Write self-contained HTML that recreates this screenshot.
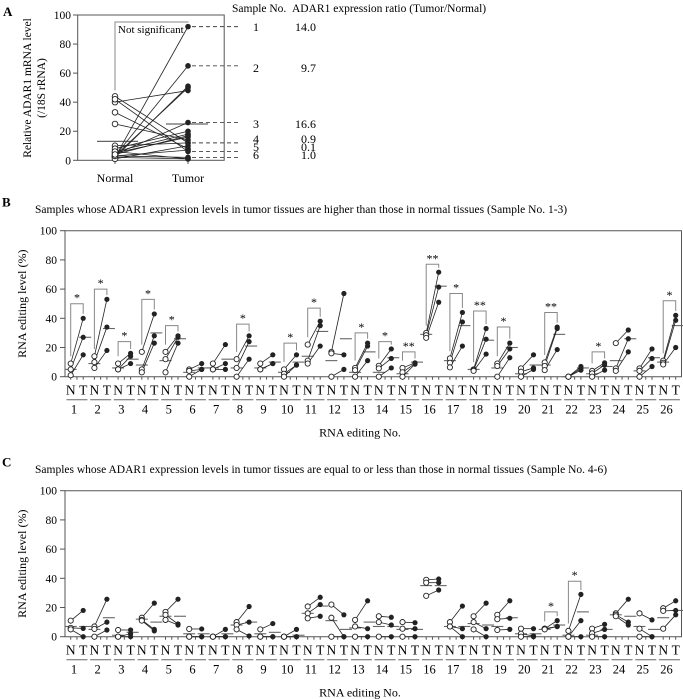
<!DOCTYPE html>
<html><head><meta charset="utf-8">
<style>
html,body{margin:0;padding:0;background:#fff;}
svg{display:block;font-family:"Liberation Serif",serif;}
</style></head>
<body>
<svg id="fig" width="683" height="699" viewBox="0 0 683 699" xmlns="http://www.w3.org/2000/svg">
<g id="panelA"></g>
<g id="panelB"></g>
<g id="panelC"></g>
</svg>
<script>
// ---------- Panel A data ----------
const aNormal = [2,3,40,2,3,44,42,33,25,10,8,6,5,4,3,2,1,3,6,4];
const aTumor  = [92,65,48,51,50,12,6,8,14,12,20,18,16,26,2,1,10,7,1,17];
const aMeanNormal = 13;
const aMeanTumor = 25;
const aYTicks = [0,20,40,60,80,100];
const aSampleValues = [92,65,26,12,6,2];
const aSampleNo = ["1","2","3","4","5","6"];
const aRatios = ["14.0","9.7","16.6","0.9","0.1","1.0"];

// ---------- Panel B data ----------
const bN = [[9,5,1],[14,10,6],[9,5,5],[17,5,3],[17,12,3],[5,4,0],[9,5,5],[12,6,0],[9,5,5],[5,2,0],[22,11,9],[17,16,0],[6,4.5,0],[7.5,5.7,0],[6,3,0],[30,28.4,26.6],[12.5,9.5,6.4],[5,4.5,4],[9,7.3,0],[5.7,3.4,0],[9.8,7.3,4.5],[0,0,0],[4,2.3,0],[23,5.7,4],[5.7,4,0],[11,9.5,8.4]];
const bT = [[40,27,15],[53,34,18],[16,14,9],[43,28,23],[28,27,23],[9,5,5],[22,9,5],[28,24,12],[15,9,9],[15,8,8],[38,35,21],[57,15,5],[23,21,11],[19,12.5,6],[9.5,9,8.6],[71.6,61.4,51],[44,37.5,21],[33,25.7,15.5],[23,19,13],[15,6,5],[34,33,18.6],[7,5.7,4.5],[9.5,8,4.5],[32,26,17],[19,12.5,7],[42,38.6,20]];
const bNMean = [5,9,6,8,11,3,6,6,6,3,14,11,3,3,2,29,11,5,6,2,8,0,2,11,4,10];
const bTMean = [27,33,12,30,26,6,12,21,10,10,31,26,17,13,10,62,35,25,20,8,29,6,7,26,13,35];
const bSig = ["*","*","*","*","*","","","*","","*","*","","*","*","**","**","*","**","*","","**","","*","","","*"];
const bBracketTop = [50,60,24,53,35,0,0,36,0,23,47,0,30,24,17,77,57,45,34,0,44,0,17,0,0,52];

// ---------- Panel C data ----------
const cN = [[11,6,5],[7,5.3,0],[4.6,0,0],[13,11.5,11],[17,15,11.5],[5.3,0,0],[0,0,0],[10,8,5],[5,0,0],[0,0,0],[20.7,16,12.6],[22,13,0],[11.5,7,0],[14,10,0],[10,5.5,0],[39,37,28],[10,7,7],[14,10,5],[15,12,4.6],[5.5,2,0],[5.5,5.5,5],[4,0,0],[5.5,2.3,0],[16,15,14],[16,5.5,0],[19.5,17.7,5.5]];
const cT = [[18,5.7,0],[25.7,10,4.6],[4.6,2,0],[23,5,4],[25.7,8.7,8],[5.3,0,0],[5,0,0],[20.7,10,0.5],[9,0,0],[5,0,0],[27,22,14],[15,0,0],[24.6,5.5,0],[13.3,8,0],[9.6,5.5,0],[39.5,37,32],[21,5.5,0],[23,5.5,0],[24.6,12.6,5],[5.5,0.5,0],[11,7,7],[29,11,0],[8.5,5,0],[25.7,10,8],[11.5,0,0],[24.6,18,15]];
const cNMean = [7,5,1,12,14,2,0,8,2,0,16,11,6,7,5,35,7,9,7,2,5,1,1,15,7,13];
const cTMean = [7,13,3,10,14,2,2,10,3,1,21,5,10,7,5,35,7,8,13,2,8,17,5,14,5,18];
const cSig = ["","","","","","","","","","","","","","","","","","","","","*","*","","","",""];
const cBracketTop = [0,0,0,0,0,0,0,0,0,0,0,0,0,0,0,0,0,0,0,0,17,38,0,0,0,0];

const editYTicks = [0,20,40,60,80,100];
const groupLabels = Array.from({length:26},(_, i)=>String(i+1));

const NS = "http://www.w3.org/2000/svg";
function mk(parent, tag, attrs, text){
  const e = document.createElementNS(NS, tag);
  for (const k in attrs) e.setAttribute(k, attrs[k]);
  if (text !== undefined) e.textContent = text;
  parent.appendChild(e);
  return e;
}

// ---------- Panel A ----------
(function(){
  const g = document.getElementById('panelA');
  const y = v => 160.3 - v*1.453;
  const xN = 115, xT = 188;
  let e;
  e = mk(g,'text',{x:3,y:16,'font-size':13,'font-weight':'bold'},'A');
  
  
  e = mk(g,'rect',{x:77.7,y:15,width:146.5,height:145.3,fill:'none',stroke:'#555','stroke-width':1});
  
  
  aYTicks.forEach(t=>{
    e = mk(g,'line',{x1:73,x2:77.7,y1:y(t),y2:y(t),stroke:'#555'});
    
    
    e = mk(g,'text',{x:71,y:y(t)+4,'font-size':11.5,'text-anchor':'end'},String(t));
    
    
  });
  [xN,xT].forEach(x=>{
    e = mk(g,'line',{x1:x,x2:x,y1:160.3,y2:164,stroke:'#555'});
    
    
  });
  e = mk(g,'text',{'font-size':11.5,'text-anchor':'middle',transform:'translate(31,88) rotate(-90)'},'Relative ADAR1 mRNA level');
  
  
  e = mk(g,'text',{'font-size':11.5,'text-anchor':'middle',transform:'translate(45,88) rotate(-90)'},'(/18S rRNA)');
  
  
  e = mk(g,'text',{x:xN,y:182,'font-size':12,'text-anchor':'middle'},'Normal');
  
  
  e = mk(g,'text',{x:xT,y:182,'font-size':12,'text-anchor':'middle'},'Tumor');
  
  
  e = mk(g,'line',{x1:97,x2:138,y1:y(aMeanNormal),y2:y(aMeanNormal),stroke:'#666','stroke-width':1.2});
  
  
  e = mk(g,'line',{x1:166,x2:208,y1:y(aMeanTumor),y2:y(aMeanTumor),stroke:'#666','stroke-width':1.2});
  
  
  const nMax = Math.max(...aNormal), tMax = Math.max(...aTumor);
  e = mk(g,'polyline',{points:`${xN},${y(nMax)-6} ${xN},22 ${xT},22 ${xT},${y(tMax)-4}`,fill:'none',stroke:'#888','stroke-width':1});
  
  
  e = mk(g,'text',{x:118,y:33,'font-size':11},'Not significant');
  
  
  aSampleValues.forEach(v=>{
    e = mk(g,'line',{x1:xT+4,x2:238,y1:y(v),y2:y(v),stroke:'#444','stroke-dasharray':'4,3','stroke-width':0.9});
    
    
  });
  aNormal.forEach((n,i)=>{
    e = mk(g,'line',{x1:xN,y1:y(n),x2:xT,y2:y(aTumor[i]),stroke:'#222','stroke-width':0.8});
    
    
  });
  aNormal.forEach(n=>{
    e = mk(g,'circle',{cx:xN,cy:y(n),r:2.8,fill:'#fff',stroke:'#222','stroke-width':0.9});
    
    
  });
  aTumor.forEach(t=>{
    e = mk(g,'circle',{cx:xT,cy:y(t),r:2.8,fill:'#222'});
    
    
  });
  e = mk(g,'text',{x:232,y:12,'font-size':11.5},'Sample No.');
  
  
  e = mk(g,'text',{x:292,y:12,'font-size':11.5},'ADAR1 expression ratio (Tumor/Normal)');
  
  
  const labY = [31,72,128,143,151,159];
  aSampleNo.forEach((s,i)=>{
    e = mk(g,'text',{x:256,y:labY[i],'font-size':12,'text-anchor':'middle'},s);
    
    
    e = mk(g,'text',{x:316,y:labY[i],'font-size':12,'text-anchor':'end'},aRatios[i]);
    
    
  });
})();

// ---------- Editing panels ----------
function editingPanel(gid, top, letter, title, N, T, NM, TM, SIG, BT){
  const g = document.getElementById(gid);
  const zeroY = top + 146;
  const y = v => zeroY - v*1.46;
  const xN = i => 70.7 + i*23.7;
  const xT = i => xN(i) + 12.5;
  let e;
  e = mk(g,'text',{x:2,y:top-24,'font-size':13,'font-weight':'bold'},letter);
  
  
  e = mk(g,'text',{x:35,y:top-17.5,'font-size':11.5},title);
  
  
  e = mk(g,'polyline',{points:`65,${zeroY} 65,${top} 681.5,${top} 681.5,${zeroY} 65,${zeroY}`,fill:'none',stroke:'#555','stroke-width':1});
  
  
  editYTicks.forEach(t=>{
    e = mk(g,'line',{x1:60,x2:65,y1:y(t),y2:y(t),stroke:'#555'});
    
    
    e = mk(g,'text',{x:57,y:y(t)+4,'font-size':11.5,'text-anchor':'end'},String(t));
    
    
  });
  e = mk(g,'text',{'font-size':12,'text-anchor':'middle',transform:`translate(26,${top+73}) rotate(-90)`},'RNA editing level (%)');
  
  
  e = mk(g,'text',{x:360,y:zeroY+60,'font-size':12,'text-anchor':'middle'},'RNA editing No.');
  
  
  groupLabels.forEach((lab,i)=>{
    [xN(i),xT(i),(xN(i)+xT(i))/2].forEach(x=>{
      e = mk(g,'line',{x1:x,x2:x,y1:zeroY,y2:zeroY+3,stroke:'#555'});
      
      
    });
    e = mk(g,'text',{x:xN(i),y:zeroY+18,'font-size':13.5,'text-anchor':'middle'},'N');
    
    
    e = mk(g,'text',{x:xT(i),y:zeroY+18,'font-size':13.5,'text-anchor':'middle'},'T');
    
    
    const cx = (xN(i)+xT(i))/2;
    e = mk(g,'line',{x1:cx-10.5,x2:cx+10.5,y1:zeroY+23,y2:zeroY+23,stroke:'#666','stroke-width':1});
    
    
    e = mk(g,'text',{x:cx-3,y:zeroY+37,'font-size':12.5,'text-anchor':'middle'},lab);
    
    
    if (SIG[i]) {
      const bt = y(BT[i]);
      e = mk(g,'polyline',{points:`${xN(i)},${y(Math.max(...N[i])+5)} ${xN(i)},${bt} ${xT(i)},${bt} ${xT(i)},${y(Math.max(...T[i])+3)}`,fill:'none',stroke:'#888','stroke-width':1});
      
      
      e = mk(g,'text',{x:(xN(i)+xT(i))/2,y:bt-2,'font-size':12,'text-anchor':'middle'},SIG[i]);
      
      
    }
    e = mk(g,'line',{x1:xN(i)-6,x2:xN(i)+6,y1:y(NM[i]),y2:y(NM[i]),stroke:'#666','stroke-width':1.1});
    
    
    e = mk(g,'line',{x1:xT(i)-4,x2:xT(i)+8,y1:y(TM[i]),y2:y(TM[i]),stroke:'#666','stroke-width':1.1});
    
    
    N[i].forEach((n,j)=>{
      e = mk(g,'line',{x1:xN(i),y1:y(n),x2:xT(i),y2:y(T[i][j]),stroke:'#222','stroke-width':0.8});
      
      
    });
    N[i].forEach(n=>{
      e = mk(g,'circle',{cx:xN(i),cy:y(n),r:2.6,fill:'#fff',stroke:'#222','stroke-width':0.9});
      
      
    });
    T[i].forEach(t=>{
      e = mk(g,'circle',{cx:xT(i),cy:y(t),r:2.6,fill:'#222'});
      
      
    });
  });
}
editingPanel('panelB', 230.7, 'B', 'Samples whose ADAR1 expression levels in tumor tissues are higher than those in normal tissues  (Sample No. 1-3)', bN, bT, bNMean, bTMean, bSig, bBracketTop);
editingPanel('panelC', 490.7, 'C', 'Samples whose ADAR1 expression levels in tumor tissues are equal to or less than those in normal tissues  (Sample No. 4-6)', cN, cT, cNMean, cTMean, cSig, cBracketTop);
</script>
</body></html>
